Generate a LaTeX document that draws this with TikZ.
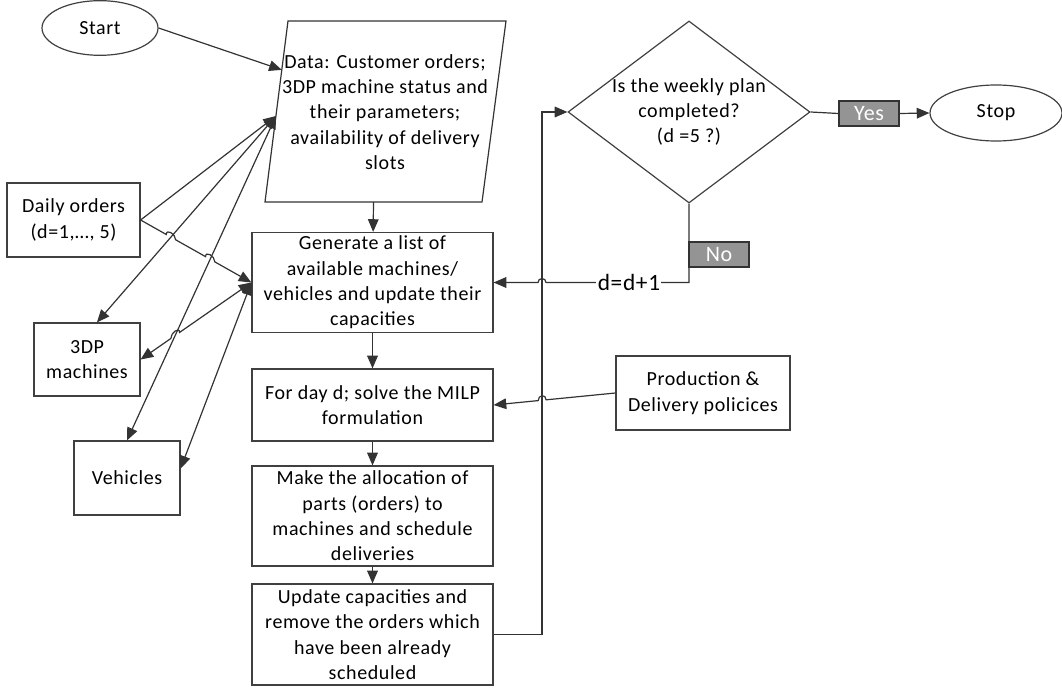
\documentclass[tikz,border=0pt]{standalone}
\usepackage{fontspec}
\setmainfont[LetterSpace=3]{Carlito}
\usetikzlibrary{shapes.geometric,arrows.meta,calc}
\begin{document}
\begin{tikzpicture}[x=0.75pt,y=-0.75pt,
    font=\fontsize{15}{19}\selectfont,
    box/.style={draw=black!75,line width=0.9pt,align=center,inner sep=0pt},
    term/.style={ellipse,draw=black!75,line width=0.9pt,inner sep=0pt},
    tag/.style={draw=black!80,fill=black!42,text=white,line width=0.9pt,inner sep=0pt,
        minimum width=45pt,minimum height=18.75pt,font=\fontsize{16.5}{18}\selectfont},
    line/.style={draw=black!80,line width=0.9pt},
    arr/.style={line,-{Triangle[length=9.5pt,width=8pt]}},
    biarr/.style={line,{Triangle[length=9.5pt,width=8pt]}-{Triangle[length=9.5pt,width=8pt]}}]
\useasboundingbox (0,0) rectangle (1062,691);

% start / stop
\node[term,minimum width=87pt,minimum height=41pt] (start) at (100,28) {Start};
\node[term,minimum width=99pt,minimum height=42pt] (stop) at (996,113) {Stop};

% data (parallelogram)
\coordinate (dTL) at (288,21);
\coordinate (dTR) at (506,21);
\coordinate (dBR) at (482,202);
\coordinate (dBL) at (265,202);
\draw[line] (dTL) -- (dTR) -- (dBR) -- (dBL) -- cycle;
\node[align=center] (data) at (385,112) {Data: Customer orders;\\3DP machine status and\\their parameters;\\availability of delivery\\slots};
\coordinate (dataS) at ($(dBL)!0.5!(dBR)$);
\coordinate (dataA) at ($(dBL)!0.73!(dTL)$);
\coordinate (dataB) at ($(dBL)!0.475!(dTL)$);

% main column
\node[box,minimum width=180.75pt,minimum height=75pt] (gen) at (372.5,282.5) {Generate a list of\\available machines/\\vehicles and update their\\capacities};
\node[box,minimum width=180.75pt,minimum height=54pt] (fday) at (372.5,405) {For day d; solve the MILP\\formulation};
\node[box,minimum width=180.75pt,minimum height=75pt] (make) at (372.5,516) {Make the allocation of\\parts (orders) to\\machines and schedule\\deliveries};
\node[box,minimum width=180.75pt,minimum height=75.75pt] (upd) at (372.5,634.5) {Update capacities and\\remove the orders which\\have been already\\scheduled};

% left inputs
\node[box,minimum width=99.75pt,minimum height=55.5pt] (daily) at (73.5,220) {Daily orders\\(d=1,…, 5)};
\node[box,minimum width=79.5pt,minimum height=54.75pt] (dp) at (87,359.5) {3DP\\machines};
\node[box,minimum width=79.5pt,minimum height=55.5pt] (veh) at (127,478) {Vehicles};

% right side
\node[diamond,draw=black!75,line width=0.9pt,inner sep=0pt,aspect=1.33,
    minimum width=181.5pt,minimum height=136.5pt] (dia) at (689,112) {};
\node[align=center] (diaText) at (dia.center) {Is the weekly plan\\completed?\\(d =5 ?)};
\node[box,minimum width=130.5pt,minimum height=55.5pt] (prod) at (703,393) {Production \&\\Delivery policices};
\node[tag] (yes) at (869,113.5) {Yes};
\node[tag] (no) at (719,254.5) {No};

% connectors
\draw[arr] (start.east) -- (dataA);
\draw[arr] (dataS) -- (gen);
\foreach \a/\b in {gen/fday,fday/make,make/upd}{
    \draw[arr] (\a) -- (\b);
}
\coordinate (loop) at (542,634.5);
\draw[arr] (upd.east) -- (loop) |- (dia.west);
\draw[line] (dia.east) -- (yes.west);
\draw[arr] (yes.east) -- (stop.west);

\coordinate (turn) at (dia.south |- gen.east);
\coordinate (hopA) at ($(loop |- gen.east)+(4,0)$);
\draw[arr] (dia.south) -- (turn) -- node[pos=0.42,fill=white,inner sep=1pt,font=\fontsize{17.5}{20}\selectfont]{d=d+1} (hopA)
    arc[start angle=0,end angle=-180,radius=4] -- (gen.east);

\coordinate (hopB) at ($(prod.west)!0.569!(fday.east)$);
\coordinate (hopC) at ($(prod.west)!0.634!(fday.east)$);
\draw[arr] (prod.west) -- (hopB) .. controls +(0,-6) and +(0,-6) .. (hopC) -- (fday.east);

% left connectors
\coordinate (x1) at (intersection of daily.east--gen.west and dataB--dp.75);
\coordinate (x2) at (intersection of daily.east--gen.west and dataB--veh.north);
\coordinate (x3) at (intersection of gen.west--dp.east and dataB--veh.north);
\draw[arr] (daily.east) -- (dataB);
\draw[arr] (daily.east) -- ($(x1)!4pt!(daily.east)$) .. controls +(0,-6) and +(0,-6) .. ($(x1)!4pt!(gen.west)$)
    -- ($(x2)!4pt!(daily.east)$) .. controls +(0,-6) and +(0,-6) .. ($(x2)!4pt!(gen.west)$) -- (gen.west);
\draw[biarr] (dataB) -- (dp.75);
\draw[biarr] (dataB) -- (veh.north);
\draw[biarr] (gen.west) -- ($(x3)!4pt!(gen.west)$) .. controls +(0,-6) and +(0,-6) .. ($(x3)!4pt!(dp.east)$) -- (dp.east);
\draw[biarr] (gen.west) -- (veh.10);
\end{tikzpicture}
\end{document}
